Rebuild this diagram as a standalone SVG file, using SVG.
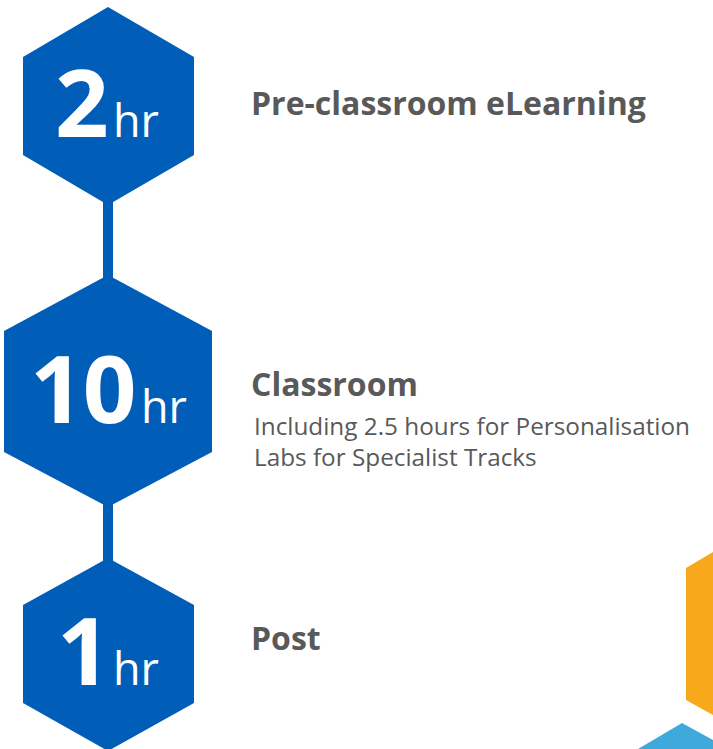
<svg xmlns="http://www.w3.org/2000/svg" width="713" height="749" viewBox="0 0 713 749">
<style>
.hex{fill:#005EB8}
.big{font-family:"Open Sans","Liberation Sans",sans-serif;font-weight:700;font-size:94px;fill:#fff}
.hr{font-family:"Open Sans","Liberation Sans",sans-serif;font-weight:400;font-size:45px;fill:#fff}
.head{font-family:"Open Sans","Liberation Sans",sans-serif;font-weight:700;font-size:32px;fill:#595959}
.sub{font-family:"Open Sans","Liberation Sans",sans-serif;font-weight:400;font-size:24.3px;fill:#595959}
</style>
<rect width="713" height="749" fill="#fff"/>
<g id="connectors">
<rect x="103" y="195" width="10" height="85" fill="#005EB8"/>
<rect x="103" y="500" width="10" height="62" fill="#005EB8"/>
</g>
<g id="node-2hr">
<polygon class="hex" points="108,7 194,57 194,155 108,205 23,155 23,57"/>
<text class="big" x="55" y="137">2</text>
<text class="hr" x="113" y="137">hr</text>
</g>
<g id="node-10hr">
<polygon class="hex" points="108,275 212,331 212,452 108,507 4,452 4,331"/>
<text class="big" x="30" y="423" letter-spacing="-1">10</text>
<text class="hr" x="141" y="423">hr</text>
</g>
<g id="node-1hr">
<polygon class="hex" points="108,558 194,605 194,703 108,751 23,703 23,605"/>
<text class="big" x="57" y="685">1</text>
<text class="hr" x="113" y="685">hr</text>
</g>
<g id="label-pre">
<text class="head" x="251" y="115">Pre-classroom eLearning</text>
</g>
<g id="label-classroom">
<text class="head" x="251" y="396">Classroom</text>
<text class="sub" x="254" y="435">Including 2.5 hours for Personalisation</text>
<text class="sub" x="254" y="466">Labs for Specialist Tracks</text>
</g>
<g id="label-post">
<text class="head" x="251" y="650">Post</text>
</g>
<g id="decor">
<polygon points="713,552 686,568 686,700 713,715" fill="#F7A81B"/>
<polygon points="682,723 638,749 713,749 713,740" fill="#40A9DC"/>
</g>
</svg>
